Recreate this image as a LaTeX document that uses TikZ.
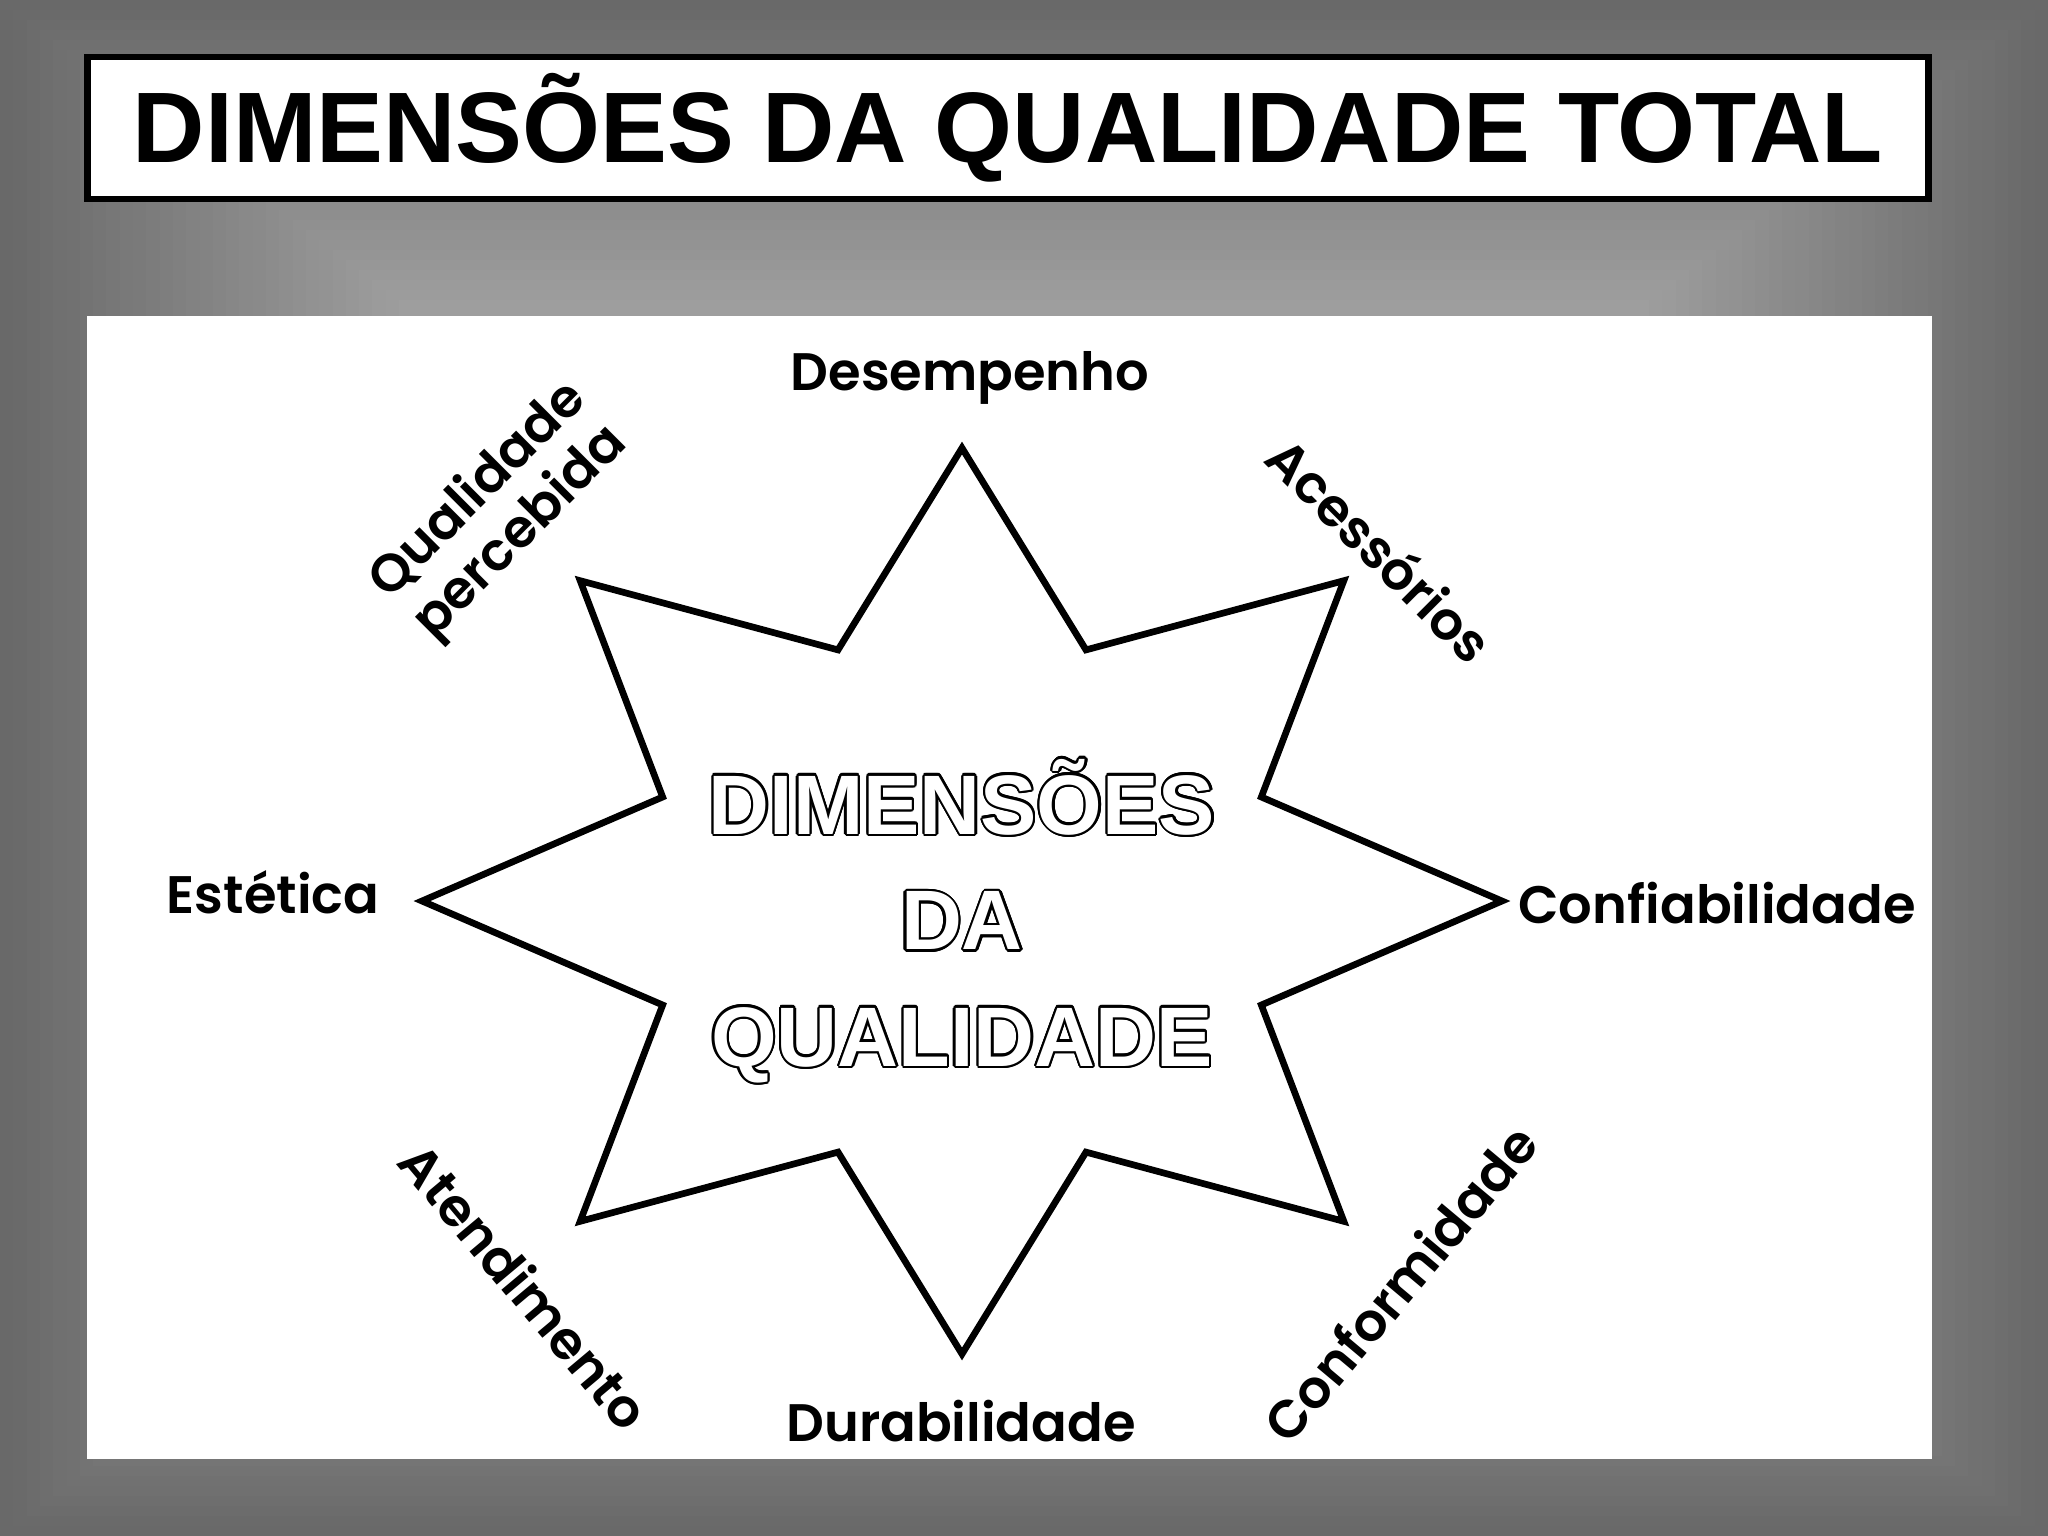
\documentclass[tikz,border=0pt]{standalone}
\usepackage{fontspec}
\setmainfont{Liberation Sans}
\newfontfamily\gothic{Poppins}[BoldFont={* SemiBold}]
\usepackage{contour}
\contourlength{0.65pt}

\tikzset{
  dimlabel/.style={font=\gothic\bfseries\fontsize{15}{17}\selectfont, inner sep=0pt},
  outlined/.style={text=white, font=\bfseries\fontsize{24}{26}\selectfont, inner sep=0pt},
  starline/.style={line width=1.9pt, line join=miter},
}

\begin{document}
\begin{tikzpicture}[x=0.01cm,y=-0.01cm]
  \useasboundingbox (0,0) rectangle (2048,1536);
  \foreach \i in {0,...,30} {
    \pgfmathsetmacro\shade{59-\i*0.7}
    \fill[black!\shade] (\i*13.3,\i*10) rectangle (2048-\i*13.3,1536-\i*10);
  }
  \node[draw, line width=1.8pt, fill=white, minimum width=18.4cm, minimum height=1.42cm,
        font=\bfseries\fontsize{28.5}{30}\selectfont, inner sep=0pt] (titulo) at (1008,128)
        {DIMENSÕES DA QUALIDADE TOTAL};
  \fill[white] (87,316) rectangle (1932,1459);
  \draw[starline] plot[samples at={0,...,15}, variable=\k]
    ({962+540*(1-0.4*mod(\k,2))*cos(90+22.5*\k)}, {901-453*(1-0.4*mod(\k,2))*sin(90+22.5*\k)}) -- cycle;
  \node[outlined] (dim) at (962,798) {\contour{black}{DIMENSÕES}};
  \node[outlined] (da) at (962,922) {\contour{black}{DA}};
  \node[outlined] (qual) at (962,1046) {\contour{black}{QUALIDADE}};
  \node[dimlabel, anchor=base] (desempenho) at (970,390) {Desempenho};
  \node[dimlabel, anchor=base] (estetica) at (273,913) {Estética};
  \node[dimlabel, anchor=base] (confiab) at (1717,923) {Confiabilidade};
  \node[dimlabel, anchor=base] (durab) at (961,1441) {Durabilidade};
  \node[dimlabel, rotate=-45] (acess) at (1381,549) {Acessórios};
  \node[dimlabel, rotate=45, align=center] (percebida) at (500,512) {Qualidade\\percebida};
  \node[dimlabel, rotate=-50] (atend) at (525,1286) {Atendimento};
  \node[dimlabel, rotate=50] (conform) at (1400,1283) {Conformidade};
\end{tikzpicture}
\end{document}
